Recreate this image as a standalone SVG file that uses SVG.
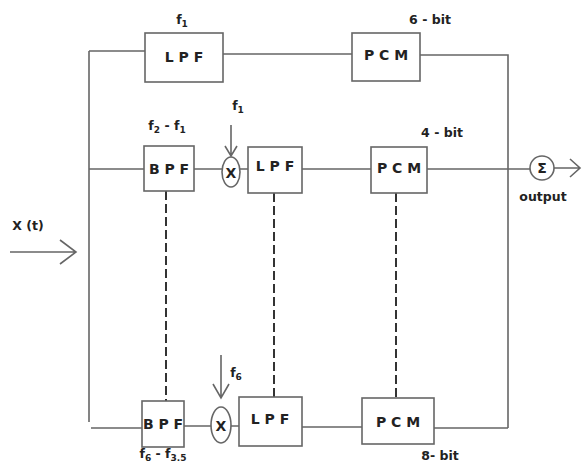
<svg xmlns="http://www.w3.org/2000/svg" width="582" height="463" viewBox="0 0 582 463">
<style>
.box{fill:#fff;stroke:#666;stroke-width:1.6}
.ln{fill:none;stroke:#666;stroke-width:1.6}
.dash{fill:none;stroke:#333;stroke-width:2;stroke-dasharray:9 4}
.bt{font-family:"DejaVu Sans",sans-serif;font-weight:bold;font-size:14px;fill:#222;text-anchor:middle}
.lb{font-family:"DejaVu Sans",sans-serif;font-weight:bold;font-size:12.5px;fill:#222;text-anchor:middle}
.sb{font-size:9px}
</style>
<rect width="582" height="463" fill="#fff"/>
<g id="connectors">
<path class="ln" d="M10 252 H76 M60 240 L76 252 L60 264"/>
<path class="ln" d="M89 51 V422 M89 51 H145 M89 169 H144 M91 428 H142"/>
<path class="ln" d="M223 54 H352 M420 55 H508 V428"/>
<path class="ln" d="M194 169 H222 M240 169 H248 M302 169 H371 M427 169 H530"/>
<path class="ln" d="M231 125 V155 M225 146 L231 156 L237 146"/>
<path class="ln" d="M184 426 H211 M231 426 H239 M302 427 H362 M434 428 H508"/>
<path class="ln" d="M221 355 V398 M213 384 L221 398 L229 384"/>
<path class="ln" d="M554 168 H580 M570 159 L580 168 L570 177"/>
<path class="dash" d="M166 191 V401 M274 193 V397 M396 193 V398"/>
</g>
<g id="input"><text class="lb" x="28" y="230">X (t)</text></g>
<g id="lpf1"><rect class="box" x="145" y="33" width="78" height="49"/><text class="bt" x="184" y="62">L P F</text><text class="lb" x="182" y="24">f<tspan class="sb" dy="3">1</tspan></text></g>
<g id="pcm1"><rect class="box" x="352" y="33" width="68" height="48"/><text class="bt" x="386" y="60">P C M</text><text class="lb" x="430" y="24">6 - bit</text></g>
<g id="bpf2"><rect class="box" x="144" y="146" width="50" height="45"/><text class="bt" x="169" y="174">B P F</text><text class="lb" x="167" y="130">f<tspan class="sb" dy="3">2</tspan><tspan dy="-3"> - f</tspan><tspan class="sb" dy="3">1</tspan></text></g>
<g id="mix2"><ellipse class="box" cx="231" cy="172" rx="9" ry="15"/><text class="bt" x="231" y="178">X</text><text class="lb" x="238" y="110">f<tspan class="sb" dy="3">1</tspan></text></g>
<g id="lpf2"><rect class="box" x="248" y="147" width="54" height="46"/><text class="bt" x="275" y="171">L P F</text></g>
<g id="pcm2"><rect class="box" x="371" y="147" width="56" height="46"/><text class="bt" x="399" y="173">P C M</text><text class="lb" x="442" y="137">4 - bit</text></g>
<g id="sum"><circle class="box" cx="542" cy="168" r="12"/><text class="bt" x="542" y="173">Σ</text><text class="lb" x="543" y="201">output</text></g>
<g id="bpf3"><rect class="box" x="142" y="401" width="42" height="46"/><text class="bt" x="163" y="429">B P F</text><text class="lb" x="163" y="458">f<tspan class="sb" dy="3">6</tspan><tspan dy="-3"> - f</tspan><tspan class="sb" dy="3">3.5</tspan></text></g>
<g id="mix3"><ellipse class="box" cx="221" cy="425" rx="10" ry="18"/><text class="bt" x="221" y="431">X</text><text class="lb" x="236" y="377">f<tspan class="sb" dy="3">6</tspan></text></g>
<g id="lpf3"><rect class="box" x="239" y="397" width="63" height="49"/><text class="bt" x="270" y="424">L P F</text></g>
<g id="pcm3"><rect class="box" x="362" y="398" width="72" height="46"/><text class="bt" x="398" y="427">P C M</text><text class="lb" x="440" y="460">8- bit</text></g>
</svg>
